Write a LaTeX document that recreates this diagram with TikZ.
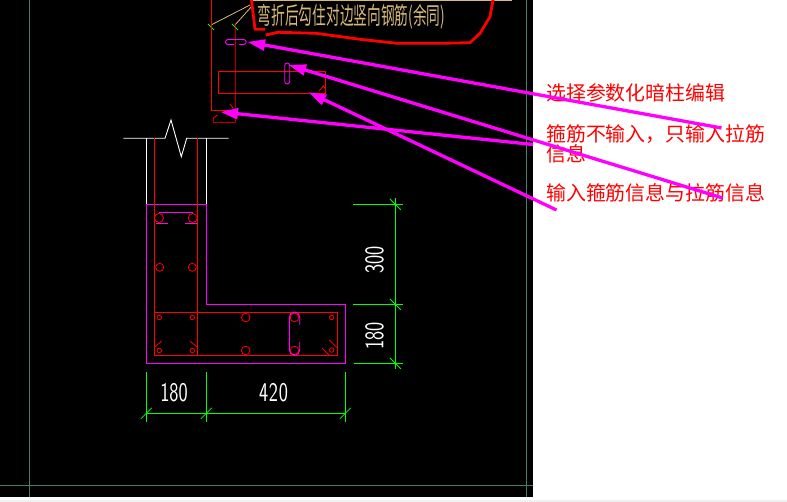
\documentclass[tikz,border=0pt]{standalone}
\usepackage{fontspec}
\usetikzlibrary{calc}
\newfontfamily\cjk{Noto Sans CJK SC}
\definecolor{magpink}{RGB}{255,0,255}
\definecolor{cadred}{RGB}{255,0,0}
\definecolor{cadgreen}{RGB}{0,255,0}
\definecolor{cadtan}{RGB}{215,185,120}
\definecolor{frameline}{RGB}{75,125,110}
\tikzset{
  pinkline/.style={draw=magpink,line width=0.9pt},
  redline/.style={draw=cadred,line width=0.8pt},
  whiteline/.style={draw=white,line width=0.9pt},
  greenline/.style={draw=cadgreen,line width=0.8pt},
  tanline/.style={draw=cadtan,line width=0.8pt},
  frame/.style={draw=frameline,line width=0.8pt},
  leader/.style={draw=magpink,line width=3.3pt},
  leadertip/.style={fill=magpink},
  note/.style={text=cadred,font=\cjk\fontsize{19.9}{20}\selectfont,anchor=west,inner sep=0pt},
  dimtext/.style={text=white,font=\sffamily\fontsize{27}{27}\selectfont,inner sep=0pt,xscale=0.72},
  scribble/.style={draw=cadred,line width=2.8pt,line join=round}
}
\begin{document}
\begin{tikzpicture}[x=1pt,y=-1pt]
\useasboundingbox (0,0) rectangle (787,502);
\fill[white] (0,0) rectangle (787,502);
\fill[black!6] (0,500) rectangle (787,502);
\fill[black] (0,0) rectangle (532.7,496.7);
% frame
\draw[frame] (29.3,0) -- (29.3,496.7);
\draw[frame] (526.4,0) -- (526.4,496.7);
\draw[frame] (0,485.4) -- (532.7,485.4);
% top callout
\draw[tanline] (250,0.6) -- (512,0.6);
\draw[tanline] (211,25) -- (250,5);
\draw[tanline] (235,25) -- (252,6);
\draw[greenline] (208,24) -- (214,30);
\draw[greenline] (232,24) -- (238,30);
\node[text=cadtan,font=\cjk\fontsize{19}{20}\selectfont,inner sep=0pt,xscale=0.72,yscale=1.25] (calltext) at (351.5,16.5) {弯折后勾住对边竖向钢筋(余同)};
\draw[scribble] (251.5,0) -- (255,29.3) -- (265,29.3);
\draw[scribble] (265.7,35) -- (278,32.3) -- (316,33.3) -- (360,39.3) -- (397,43.3) -- (440,43.3) -- (470,42.7) -- (480,33.3) -- (490,16.7) -- (493,0);
% small upper section
\draw[redline] (211.3,0) -- (211.3,110.3) -- (235.3,110.3);
\draw[redline] (235.3,23) -- (235.3,122.3) -- (213.3,122.3) -- (213.3,118.3) -- (217.3,115);
\draw[redline] (218.3,71.3) rectangle (325.7,93.3);
\draw[redline] (319.3,90.7) -- (323.3,86) -- (325.7,89.3);
\draw[redline] (230,104) -- (233.3,108.3);
\draw[pinkline] (234,44.5) -- (228,44.5) arc[start angle=90,end angle=270,radius=2.5] -- (243.7,39.5) arc[start angle=-90,end angle=90,radius=2.5] -- (239,44.5);
\draw[pinkline] (284.7,77) -- (284.7,65.5) arc[start angle=180,end angle=360,radius=2.5] -- (289.7,81.5) arc[start angle=0,end angle=180,radius=2.5] -- (284.7,74);
% wall break
\draw[whiteline] (123.3,138.3) -- (165,138.3) -- (171,120) -- (181.3,156.7) -- (186.7,138.3) -- (228.7,138.3);
\draw[whiteline] (146.3,138.3) -- (146.3,204.7);
\draw[whiteline] (206.3,138.3) -- (206.3,204.7);
% outline
\draw[pinkline] (146.3,204.7) -- (206.3,204.7) -- (206.3,304.3) -- (345.3,304.3) -- (345.3,363.3) -- (146.3,363.3) -- cycle;
% stirrups
\draw[redline] (154.3,138) -- (154.3,355.3);
\draw[redline] (197.3,138) -- (197.3,355.3);
\draw[redline] (154.3,312.3) rectangle (337.7,355.3);
% hooks
\draw[redline] (154.3,347.3) -- (161.7,341);
\draw[redline] (190,341) -- (197.3,347.3);
\draw[redline] (329.3,340) -- (337.7,348.3);
\draw[redline] (322.3,348.3) -- (329,355);
% bars
\foreach \px/\py/\r in {159/218/4.5,192.7/218/4.5,159.7/267.3/4,192.3/267.3/4,
  159.3/317.5/2.3,192.3/317.5/2.3,159.3/350.5/2.3,192.3/350.5/2.3,331.7/317.5/2.3,331.7/350/2.3,
  245.7/317.5/4.3,245.7/350.5/4.3,294.5/317.5/4.3,294.5/350.5/4.3}
  \draw[redline] (\px,\py) circle[radius=\r];
% ties
\draw[pinkline] (159,212.3) -- (192.5,212.3);
\draw[pinkline] (156,223.3) -- (168,223.3);
\draw[pinkline] (185,223.3) -- (197,223.3);
\draw[pinkline] (299.7,325) -- (299.7,317) arc[start angle=0,end angle=-90,radius=5] -- (294.5,312) arc[start angle=-90,end angle=-180,radius=5.2] -- (289.3,350) arc[start angle=180,end angle=90,radius=5.2] -- (294.5,355.3) arc[start angle=90,end angle=0,radius=5.2] -- (299.7,342);
% dimensions
\draw[greenline] (146.3,413.3) -- (345.3,413.3);
\foreach \dx in {146.3,206.3,345.3}{
  \draw[greenline] (\dx,372.3) -- (\dx,421.7);
  \draw[greenline] (\dx-5.5,418.8) -- (\dx+5.5,407.8);
}
\draw[greenline] (395.3,198) -- (395.3,369);
\draw[greenline] (353,204.3) -- (402.7,204.3);
\draw[greenline] (353,304.3) -- (402.7,304.3);
\draw[greenline] (354,363.3) -- (402.7,363.3);
\foreach \dy in {204.3,304.3,363.3}
  \draw[greenline] (389.8,\dy-5.5) -- (400.8,\dy+5.5);
\node[dimtext] (d180a) at (174,393) {180};
\node[dimtext] (d420) at (273.5,393) {4\kern1pt2\kern1pt0};
\node[rotate=90,dimtext] (d180b) at (374.5,336) {180};
\node[rotate=90,dimtext] (d300) at (374.5,260) {300};
% notes
\node[note] (n1) at (546,93) {选择参数化暗柱编辑};
\node[note] (n2) at (546,134) {箍筋不输入，只输入拉筋};
\node[note] (n2b) at (546,154) {信息};
\node[note] (n3) at (546,193) {输入箍筋信息与拉筋信息};
% leaders
\coordinate (a1) at (721.5,128); \coordinate (t1) at (248,42);
\coordinate (a2) at (722.5,198); \coordinate (t2) at (289,65);
\coordinate (a3) at (556.5,210); \coordinate (t3) at (309,92.5);
\coordinate (a4) at (533,144.5); \coordinate (t4) at (221,112);
\foreach \a/\t in {a1/t1,a2/t2,a3/t3,a4/t4}{
  \draw[leader] (\a) -- ($(\t)!12pt!(\a)$);
  \fill[leadertip] (\t) -- ($(\t)!18pt!19:(\a)$) -- ($(\t)!18pt!-19:(\a)$) -- cycle;
}
\end{tikzpicture}
\end{document}
